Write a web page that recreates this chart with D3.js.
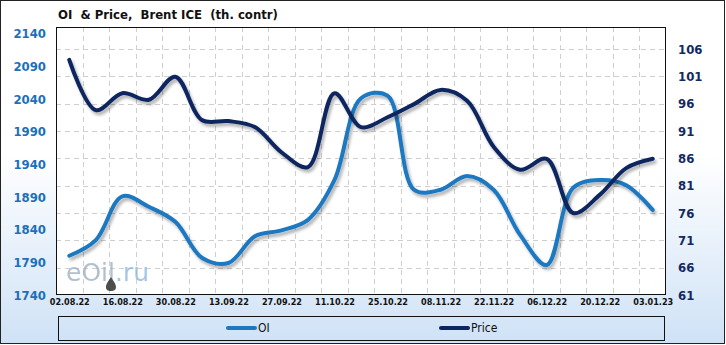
<!DOCTYPE html>
<html>
<head>
<meta charset="utf-8">
<script src="https://cdn.jsdelivr.net/npm/d3@7"></script>
<style>
  body { margin: 0; background: #fff; }
  svg { display: block; }
</style>
</head>
<body>
<div id="chart"></div>
<script>
// weekly dates (every other one is labelled)
const dates = ["02.08.22", "09.08.22", "16.08.22", "23.08.22", "30.08.22", "06.09.22", "13.09.22",
    "20.09.22", "27.09.22", "04.10.22", "11.10.22", "18.10.22", "25.10.22", "01.11.22", "08.11.22",
    "15.11.22", "22.11.22", "29.11.22", "06.12.22", "13.12.22", "20.12.22", "27.12.22", "03.01.23"];

// open interest, th. contracts (left axis)
const oi = [1800, 1824, 1891, 1875, 1852, 1797, 1789, 1830, 1839, 1855, 1916, 2041, 2045,
    1901, 1901, 1922, 1901, 1832, 1786, 1904, 1916, 1908, 1870];

// Brent price (right axis)
const price = [104.0, 94.8, 97.9, 96.7, 100.9, 93.0, 92.8, 91.7, 87.1, 84.4, 97.9, 91.7, 93.5,
    95.9, 98.5, 96.5, 88.1, 83.9, 85.9, 76.0, 79.3, 84.2, 85.9];

const leftTicks = [1740, 1790, 1840, 1890, 1940, 1990, 2040, 2090, 2140];
const rightTicks = [61, 66, 71, 76, 81, 86, 91, 96, 101, 106];

const W = 726, H = 345;
const plot = { left: 56, right: 666, top: 27, bottom: 295 };
const fontAxis = "'DejaVu Sans Condensed', 'DejaVu Sans', sans-serif";

const svg = d3.select("#chart").append("svg")
    .attr("width", W)
    .attr("height", H);

const defs = svg.append("defs");
const grad = defs.append("linearGradient")
    .attr("id", "bg").attr("x1", 0).attr("y1", 0).attr("x2", 0).attr("y2", 1);
grad.append("stop").attr("offset", "0%").attr("stop-color", "#ffffff");
grad.append("stop").attr("offset", "45%").attr("stop-color", "#ffffff");
grad.append("stop").attr("offset", "100%").attr("stop-color", "#cfe2f6");

const shadow = defs.append("filter").attr("id", "shadow")
    .attr("x", "-5%").attr("y", "-10%").attr("width", "110%").attr("height", "130%");
shadow.append("feDropShadow")
    .attr("dx", 2).attr("dy", 3).attr("stdDeviation", 1.6)
    .attr("flood-color", "#000").attr("flood-opacity", 0.3);

// background + outer frame
svg.append("rect")
    .attr("x", 0.5).attr("y", 0.5)
    .attr("width", W - 2).attr("height", H - 2)
    .attr("fill", "url(#bg)")
    .attr("stroke", "#222");

// plot area
svg.append("rect")
    .attr("x", plot.left).attr("y", plot.top)
    .attr("width", plot.right - plot.left).attr("height", plot.bottom - plot.top)
    .attr("fill", "#fff");

// scales
const x = d3.scalePoint()
    .domain(dates)
    .range([plot.left, plot.right])
    .padding(0.5);

const yL = d3.scaleLinear()
    .domain([1740, 2150])
    .range([plot.bottom, plot.top]);

const yR = d3.scaleLinear()
    .domain([61, 110])
    .range([plot.bottom, plot.top]);

// grid
const grid = svg.append("g")
    .attr("stroke", "#cfcfcf")
    .attr("stroke-dasharray", "5,4")
    .attr("stroke-width", 1);

grid.selectAll("line.v")
    .data(dates.slice(1))
    .join("line")
    .attr("class", "v")
    .attr("x1", d => Math.round(x(d) - x.step() / 2) + 0.5)
    .attr("x2", d => Math.round(x(d) - x.step() / 2) + 0.5)
    .attr("y1", plot.top)
    .attr("y2", plot.bottom);

grid.selectAll("line.h")
    .data(rightTicks.slice(1))
    .join("line")
    .attr("class", "h")
    .attr("x1", plot.left)
    .attr("x2", plot.right)
    .attr("y1", d => Math.round(yR(d)) + 0.5)
    .attr("y2", d => Math.round(yR(d)) + 0.5);

// watermark
const wm = svg.append("g").attr("opacity", 0.8);
const wmMain = wm.append("text")
    .attr("x", 66).attr("y", 281)
    .attr("font-family", "'DejaVu Sans', sans-serif")
    .attr("font-size", 25)
    .attr("fill", "#9fb0c2")
    .text("eOil");
const wmEnd = 66 + wmMain.node().getComputedTextLength();
wm.append("text")
    .attr("x", wmEnd).attr("y", 281)
    .attr("font-family", "'DejaVu Sans', sans-serif")
    .attr("font-size", 25)
    .attr("fill", "#8cb9e3")
    .text(".ru");
wm.append("path")
    .attr("transform", `translate(${wmEnd - 4},0)`)
    .attr("d", "M0,277 C-3,282 -5,284 -5,287 C-5,290 -3,291 0,291 C3,291 5,290 5,287 C5,284 3,282 0,277 Z")
    .attr("fill", "#222");

// lines
const lineOI = d3.line()
    .x((d, i) => x(dates[i]))
    .y(d => yL(d))
    .curve(d3.curveCatmullRom.alpha(0.5));

const linePrice = d3.line()
    .x((d, i) => x(dates[i]))
    .y(d => yR(d))
    .curve(d3.curveCatmullRom.alpha(0.5));

svg.append("path")
    .datum(oi)
    .attr("d", lineOI)
    .attr("fill", "none")
    .attr("stroke", "#1d78c1")
    .attr("stroke-width", 4)
    .attr("stroke-linecap", "round")
    .attr("filter", "url(#shadow)");

svg.append("path")
    .datum(price)
    .attr("d", linePrice)
    .attr("fill", "none")
    .attr("stroke", "#0c2660")
    .attr("stroke-width", 4)
    .attr("stroke-linecap", "round")
    .attr("filter", "url(#shadow)");

// plot border
svg.append("rect")
    .attr("x", plot.left + 0.5).attr("y", plot.top + 0.5)
    .attr("width", plot.right - plot.left - 1).attr("height", plot.bottom - plot.top - 1)
    .attr("fill", "none")
    .attr("stroke", "#111");

// axes
const axL = svg.append("g")
    .attr("transform", `translate(${plot.left - 10},0)`)
    .call(d3.axisLeft(yL).tickValues(leftTicks).tickFormat(d3.format("d")).tickSize(0).tickPadding(0));
axL.select(".domain").remove();
axL.selectAll("text")
    .attr("font-family", fontAxis)
    .attr("font-size", 13)
    .attr("font-weight", "bold")
    .attr("fill", "#1c6fb9");

const axR = svg.append("g")
    .attr("transform", `translate(${plot.right + 12},0)`)
    .call(d3.axisRight(yR).tickValues(rightTicks).tickSize(0).tickPadding(0));
axR.select(".domain").remove();
axR.selectAll("text")
    .attr("font-family", fontAxis)
    .attr("font-size", 13)
    .attr("font-weight", "bold")
    .attr("fill", "#13295f");

const axB = svg.append("g")
    .attr("transform", `translate(0,${plot.bottom + 4})`)
    .call(d3.axisBottom(x).tickValues(dates.filter((d, i) => i % 2 === 0)).tickSize(0).tickPadding(0));
axB.select(".domain").remove();
axB.selectAll("text")
    .attr("font-family", fontAxis)
    .attr("font-size", 9)
    .attr("font-weight", "bold")
    .attr("fill", "#111");

// title
svg.append("text")
    .attr("x", 58).attr("y", 19)
    .attr("font-family", fontAxis)
    .attr("font-size", 13)
    .attr("font-weight", "bold")
    .attr("fill", "#111")
    .attr("xml:space", "preserve")
    .text("OI  & Price,  Brent ICE  (th. contr)");

// legend
svg.append("rect")
    .attr("x", 58.5).attr("y", 316.5)
    .attr("width", 606).attr("height", 24)
    .attr("fill", "none")
    .attr("stroke", "#111");

const legendItems = [
    { name: "OI", color: "#1d78c1", x: 228 },
    { name: "Price", color: "#0c2660", x: 441 }
];

const legend = svg.append("g")
    .selectAll("g")
    .data(legendItems)
    .join("g")
    .attr("transform", d => `translate(${d.x},328)`);

legend.append("line")
    .attr("x1", 0).attr("x2", 27)
    .attr("stroke", d => d.color)
    .attr("stroke-width", 4)
    .attr("stroke-linecap", "round");

legend.append("text")
    .attr("x", 30)
    .attr("dy", "0.36em")
    .attr("font-family", fontAxis)
    .attr("font-size", 12)
    .attr("fill", "#111")
    .text(d => d.name);
</script>
</body>
</html>
